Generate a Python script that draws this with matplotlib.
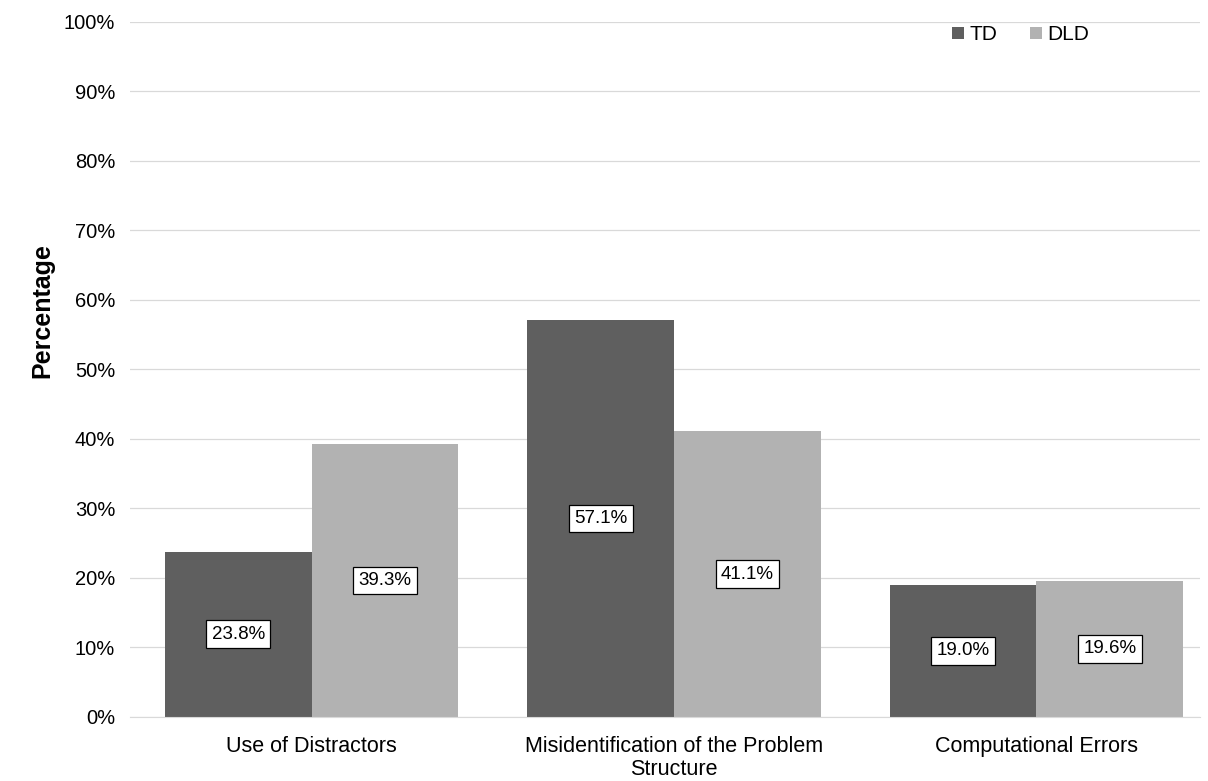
import numpy as np
import matplotlib.pyplot as plt
from matplotlib.ticker import PercentFormatter

categories = ['Use of Distractors', 'Misidentification of the Problem\nStructure', 'Computational Errors']
td = [23.8, 57.1, 19.0]
dld = [39.3, 41.1, 19.6]

plt.rcParams['font.family'] = ['Liberation Sans', 'DejaVu Sans']

fig = plt.figure(figsize=(12.08, 7.81), dpi=100)
ax = fig.add_axes([0.108, 0.082, 0.885, 0.89])

x = np.arange(len(categories))
w = 0.405
b1 = ax.bar(x - w/2, td, w, color='#5f5f5f', label='TD', zorder=2)
b2 = ax.bar(x + w/2, dld, w, color='#b2b2b2', label='DLD', zorder=2)

# value labels in boxes at the middle of each bar
for bars, vals in [(b1, td), (b2, dld)]:
    for r, v in zip(bars, vals):
        ax.text(r.get_x() + r.get_width()/2, v/2, f'{v:.1f}%', ha='center', va='center',
                fontsize=13.5, zorder=3,
                bbox=dict(boxstyle='square,pad=0.28', fc='white', ec='black', lw=0.9))

ax.set_ylim(0, 100)
ax.set_xlim(-0.5, 2.45)
ax.set_yticks(np.arange(0, 101, 10))
ax.yaxis.set_major_formatter(PercentFormatter(decimals=0))
ax.set_xticks(x)
ax.set_xticklabels(categories, fontsize=15.5, linespacing=1.1)
ax.tick_params(axis='y', labelsize=14.5, length=0, pad=11)
ax.tick_params(axis='x', length=0, pad=14)
ax.grid(axis='y', color='#d9d9d9', lw=0.9, zorder=0)
for s in ['left', 'right', 'top']:
    ax.spines[s].set_visible(False)
ax.spines['bottom'].set_color('#d9d9d9')

ax.set_ylabel('Percentage', fontsize=18, fontweight='bold')
ax.yaxis.set_label_coords(-0.071, 0.585)

ax.legend(loc='upper right', bbox_to_anchor=(0.914, 1.022), ncol=2, frameon=False,
          fontsize=15, handlelength=0.55, handleheight=0.55, handletextpad=0.25,
          columnspacing=1.6)

fig.savefig('out.png', dpi=100)
